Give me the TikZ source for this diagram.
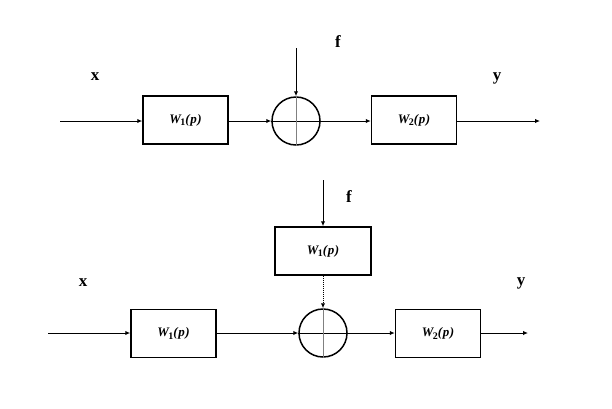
\documentclass[tikz,border=0pt]{standalone}
\usepackage{fontspec}
\setmainfont{Liberation Serif}
\usetikzlibrary{arrows.meta}
\newcommand{\tfW}[1]{W\kern-0.5pt\raisebox{-2.5pt}{\fontsize{10}{11}\selectfont\upshape #1}(\kern0.5pt p\kern0.5pt)}
\begin{document}
\begin{tikzpicture}[x=1pt,y=-1pt,
  blk/.style={draw,line width=1.5pt,minimum width=85pt,minimum height=48pt,inner sep=0pt,font=\fontsize{13}{15}\selectfont\bfseries\itshape},
  sumc/.style={draw,line width=1.5pt,circle,minimum size=48pt,inner sep=0pt},
  lbl/.style={font=\fontsize{17}{19}\selectfont\bfseries},
  conn/.style={-{Latex[length=5pt,width=4.5pt]},line width=1pt}]
\useasboundingbox (0,0) rectangle (612,408);
% top diagram
\coordinate (in1) at (60,121);
\node[blk] (a1) at (185.5,120) {\tfW{1}};
\node[sumc] (s1) at (296,121) {};
\draw[thick] (s1.west) -- (s1.east);
\draw[thick,gray] (s1.north) -- (s1.south);
\coordinate (f1) at (296,48);
\node[blk] (b1) at (414,120) {\tfW{2}};
\coordinate (out1) at (540,121);
\draw[conn] (in1) -- (a1.west|-in1);
\draw[conn] (a1.east|-s1) -- (s1.west);
\draw[conn] (s1.east) -- (b1.west|-s1);
\draw[conn] (f1) -- (s1.north);
\draw[conn] (b1.east|-out1) -- (out1);
\node[lbl] (x1) at (95,77) {x};
\node[lbl] (ff1) at (338,42) {f};
\node[lbl] (y1) at (497,78) {y};
% bottom diagram
\coordinate (in2) at (48,333);
\node[blk] (a2) at (173.5,333.5) {\tfW{1}};
\node[sumc] (s2) at (323,333) {};
\draw[thick] (s2.west) -- (s2.east);
\draw[thick,gray] (s2.north) -- (s2.south);
\node[blk,minimum width=96pt] (c2) at (323,251) {\tfW{1}};
\coordinate (f2) at (323,180);
\node[blk] (b2) at (438,333.5) {\tfW{2}};
\coordinate (out2) at (528,333);
\draw[conn] (in2) -- (a2.west|-in2);
\draw[conn] (a2.east|-s2) -- (s2.west);
\draw[conn] (s2.east) -- (b2.west|-s2);
\draw[conn] (f2) -- (c2.north);
\draw[conn,densely dotted] (c2.south) -- (s2.north);
\draw[conn] (b2.east|-out2) -- (out2);
\node[lbl] (x2) at (83,283) {x};
\node[lbl] (ff2) at (349,197) {f};
\node[lbl] (y2) at (521,283) {y};
\end{tikzpicture}
\end{document}
